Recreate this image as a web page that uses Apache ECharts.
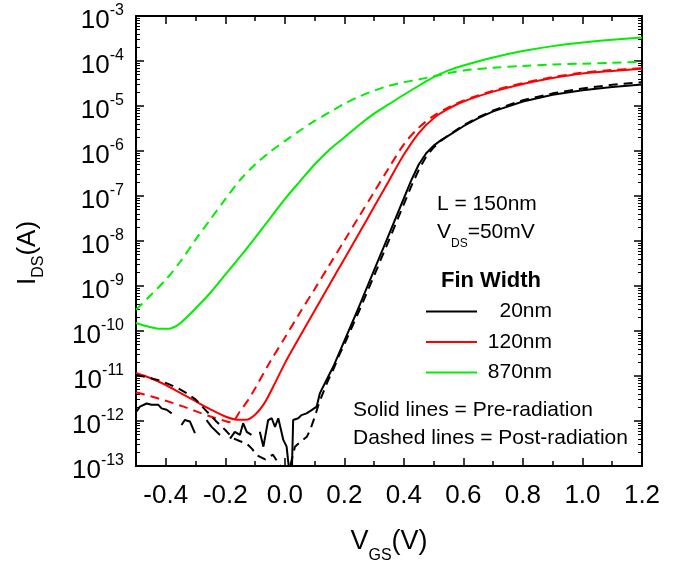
<!DOCTYPE html>
<html><head><meta charset="utf-8">
<script src="https://cdn.jsdelivr.net/npm/echarts@6/dist/echarts.min.js"></script>
<style>html,body{margin:0;padding:0;background:#fff}#c{width:679px;height:564px}</style>
</head><body><div id="c"></div>
<script>
const FONT = '"Liberation Sans", Arial, Helvetica, sans-serif';

// ---- data: V_GS (V) and I_DS (A) ----
const V_20_PRE = [-0.498,-0.487,-0.464,-0.448,-0.425,-0.414,-0.397,-0.38,-0.364,-0.347,-0.336,-0.319,-0.302,-0.283,-0.263,-0.246,-0.229,-0.218,-0.2,-0.184,-0.168,-0.151,-0.14,-0.128,-0.112,-0.098,-0.084,-0.072,-0.056,-0.044,-0.033,-0.022,-0.005,0.006,0.012,0.017,0.023,0.028,0.045,0.056,0.073,0.09,0.107,0.118,0.14,0.163,0.2,0.25,0.3,0.35,0.4,0.425,0.45,0.475,0.5,0.525,0.55,0.6,0.65,0.7,0.8,0.9,1.0,1.1,1.2];
const I_20_PRE = [1.62e-12,2.09e-12,2.45e-12,2.29e-12,2.29e-12,1.91e-12,1.78e-12,1.48e-12,null,8.13e-13,1.05e-12,9.77e-13,5.37e-13,null,1.05e-12,7.41e-13,5.75e-13,4.9e-13,null,4.07e-13,5.75e-13,4.9e-13,8.91e-13,5.75e-13,4.9e-13,null,5.75e-13,2.69e-13,1.05e-12,1.15e-12,7.41e-13,1.15e-12,3.8e-13,2.69e-13,1.15e-13,6.3e-14,5e-14,1.05e-12,1.15e-12,1.35e-12,1.48e-12,1.74e-12,2.09e-12,4.17e-12,8.13e-12,1.62e-11,6.03e-11,3.55e-10,2.24e-9,1.41e-8,8.91e-8,2.24e-7,5.01e-7,8.91e-7,1.32e-6,1.74e-6,2.19e-6,3.55e-6,5.37e-6,7.59e-6,1.26e-5,1.78e-5,2.24e-5,2.63e-5,3.02e-5];

const V_20_POST = [-0.5,-0.475,-0.45,-0.42,-0.39,-0.36,-0.33,-0.3,-0.26,-0.23,-0.2,-0.175,-0.15,-0.128,-0.11,-0.094,-0.066,-0.04,-0.02,0.0,0.02,0.034,0.055,0.074,0.085,0.101,0.115,0.128,0.145,0.162,0.185,0.2,0.25,0.3,0.35,0.4,0.425,0.45,0.475,0.5,0.525,0.55,0.6,0.65,0.7,0.8,0.9,1.0,1.1,1.2];
const I_20_POST = [1.05e-11,9.77e-12,8.91e-12,7.94e-12,6.61e-12,5.37e-12,4.17e-12,3.02e-12,1.58e-12,9.77e-13,6.31e-13,4.17e-13,3.55e-13,3.16e-13,2.4e-13,1.74e-13,1.41e-13,1.78e-13,1.12e-13,7.94e-14,1.12e-13,2.69e-13,3.55e-13,4.47e-13,6.31e-13,1.26e-12,2.51e-12,4.17e-12,7.94e-12,1.35e-11,3.16e-11,5.01e-11,2.82e-10,1.7e-9,1.05e-8,6.61e-8,1.66e-7,3.8e-7,7.59e-7,1.2e-6,1.7e-6,2.24e-6,3.72e-6,5.62e-6,7.94e-6,1.35e-5,1.91e-5,2.45e-5,2.95e-5,3.39e-5];

const V_120_PRE = [-0.5,-0.45,-0.4,-0.35,-0.3,-0.25,-0.2,-0.16,-0.13,-0.1,-0.07,-0.04,0,0.05,0.1,0.15,0.2,0.25,0.3,0.35,0.4,0.45,0.5,0.55,0.6,0.7,0.8,0.9,1.0,1.1,1.2];
const I_120_PRE = [1.17e-11,8.91e-12,6.31e-12,4.17e-12,2.75e-12,1.82e-12,1.26e-12,1.07e-12,1.07e-12,1.38e-12,2.4e-12,5.62e-12,1.91e-11,7.41e-11,2.82e-10,1.07e-9,3.98e-9,1.51e-8,5.75e-8,2.19e-7,8.32e-7,2.51e-6,5.37e-6,8.71e-6,1.26e-5,2.09e-5,3.09e-5,4.17e-5,5.25e-5,6.03e-5,6.76e-5];

const V_120_POST = [-0.5,-0.45,-0.4,-0.35,-0.3,-0.25,-0.2,-0.18,-0.15,-0.12,-0.1,-0.05,0,0.05,0.1,0.15,0.2,0.25,0.3,0.35,0.4,0.45,0.5,0.55,0.6,0.7,0.8,0.9,1.0,1.1,1.2];
const I_120_POST = [4.37e-12,3.55e-12,2.82e-12,2.19e-12,1.66e-12,1.26e-12,1.0e-12,9.33e-13,1.66e-12,3.16e-12,5.25e-12,2.04e-11,7.08e-11,2.51e-10,8.51e-10,2.95e-9,1.02e-8,3.55e-8,1.23e-7,4.27e-7,1.41e-6,3.31e-6,6.03e-6,9.33e-6,1.32e-5,2.19e-5,3.24e-5,4.37e-5,5.5e-5,6.31e-5,6.92e-5];

const V_870_PRE = [-0.5,-0.46,-0.42,-0.39,-0.36,-0.33,-0.3,-0.25,-0.2,-0.15,-0.1,-0.05,0,0.05,0.1,0.15,0.2,0.25,0.3,0.35,0.4,0.45,0.5,0.55,0.6,0.7,0.8,0.9,1.0,1.1,1.2];
const I_870_PRE = [1.51e-10,1.26e-10,1.12e-10,1.12e-10,1.35e-10,2.0e-10,3.16e-10,7.08e-10,1.78e-9,4.47e-9,1.17e-8,3.16e-8,8.51e-8,2.09e-7,5.01e-7,1.07e-6,2.0e-6,3.8e-6,6.76e-6,1.1e-5,1.78e-5,2.82e-5,4.37e-5,6.17e-5,7.94e-5,1.2e-4,1.66e-4,2.14e-4,2.57e-4,2.95e-4,3.31e-4];

const V_870_POST = [-0.5,-0.45,-0.4,-0.35,-0.3,-0.25,-0.2,-0.15,-0.1,-0.05,0,0.05,0.1,0.15,0.2,0.25,0.3,0.35,0.4,0.45,0.5,0.55,0.6,0.7,0.8,0.9,1.0,1.1,1.2];
const I_870_POST = [2.95e-10,6.31e-10,1.38e-9,3.55e-9,1.07e-8,3.02e-8,8.51e-8,2.29e-7,5.01e-7,9.55e-7,1.66e-6,2.82e-6,4.68e-6,7.24e-6,1.12e-5,1.62e-5,2.19e-5,2.82e-5,3.39e-5,3.89e-5,4.57e-5,5.37e-5,6.17e-5,7.08e-5,7.76e-5,8.32e-5,8.71e-5,9.12e-5,9.55e-5];

// ---- tick labels / legend ----
const X_TICK_LABELS = [-0.4,-0.2,0.0,0.2,0.4,0.6,0.8,1.0,1.2];
const Y_DECADES = [-13,-12,-11,-10,-9,-8,-7,-6,-5,-4,-3];
const LEGEND_NAMES = ['20nm','120nm','870nm'];

// minor log ticks (2..9 within each decade), in exponent space
const Y_MINOR = [];
for (let i = 0; i < Y_DECADES.length - 1; i++) for (let k = 2; k <= 9; k++) Y_MINOR.push(Y_DECADES[i] + Math.log10(k));

function pairs(V, I) { return V.map((x, k) => [x, I[k] == null ? '-' : I[k]]); }

const BLACK = '#000000', RED = '#ff0000', GREEN = '#00ee00';
function line(name, V, I, color, dashed, smooth) {
  return {
    name, type: 'line', xAxisIndex: 0, yAxisIndex: 0, data: pairs(V, I),
    symbol: 'none', showSymbol: false, connectNulls: false, clip: true, silent: true,
    smooth: smooth ? 0.3 : false,
    color, itemStyle: {color},
    lineStyle: {color, width: 2, type: dashed ? [9, 6] : 'solid'},
    z: dashed ? 3 : 2
  };
}

const tickStyle = {color: '#000', width: 1.5};
const frameLine = {show: true, onZero: false, lineStyle: {color: '#000', width: 2}};
const noLine = {show: false, onZero: false};
const none = {show: false};

const chart = echarts.init(document.getElementById('c'), null, {renderer: 'canvas'});
chart.setOption({
  animation: false,
  backgroundColor: '#ffffff',
  textStyle: {fontFamily: FONT},
  grid: {left: 136, right: 37, top: 16, bottom: 98, containLabel: false, outerBoundsMode: 'none'},
  xAxis: [
    {type: 'value', min: -0.5, max: 1.2, interval: 0.1, position: 'bottom',
     name: 'V{s|GS}(V)', nameLocation: 'middle', nameGap: 54,
     nameTextStyle: {fontFamily: FONT, fontSize: 27, color: '#000',
       rich: {s: {fontFamily: FONT, fontSize: 16, color: '#000', verticalAlign: 'top', padding: [28, 0, 0, 0]}}},
     axisLine: frameLine, axisTick: {inside: true, length: 5, lineStyle: tickStyle},
     axisLabel: none, splitLine: none},
    {type: 'value', min: -0.5, max: 1.2, interval: 0.1, position: 'bottom',
     axisLine: noLine,
     axisTick: {inside: true, length: 8, customValues: X_TICK_LABELS, lineStyle: tickStyle},
     axisLabel: {show: true, customValues: X_TICK_LABELS, margin: 17,
       fontFamily: FONT, fontSize: 26, color: '#000', formatter: v => v.toFixed(1)},
     splitLine: none},
    {type: 'value', min: -0.5, max: 1.2, interval: 0.1, position: 'top',
     axisLine: frameLine, axisTick: {inside: true, length: 5, lineStyle: tickStyle},
     axisLabel: none, splitLine: none},
    {type: 'value', min: -0.5, max: 1.2, interval: 0.1, position: 'top',
     axisLine: noLine, axisTick: {inside: true, length: 8, customValues: X_TICK_LABELS, lineStyle: tickStyle},
     axisLabel: none, splitLine: none}
  ],
  yAxis: [
    {type: 'log', logBase: 10, min: 1e-13, max: 1e-3, position: 'left',
     name: 'I{s|DS}(A)', nameLocation: 'middle', nameGap: 89, nameRotate: 90,
     nameTextStyle: {fontFamily: FONT, fontSize: 26, color: '#000', padding: [0, 24, 0, 0],
       rich: {s: {fontFamily: FONT, fontSize: 16, color: '#000', verticalAlign: 'top', padding: [22, 0, 0, 0]}}},
     axisLine: frameLine, axisTick: none, axisLabel: none, splitLine: none, minorTick: none},
    {type: 'log', logBase: 10, min: 1e-13, max: 1e-3, position: 'right',
     axisLine: frameLine, axisTick: none, axisLabel: none, splitLine: none},
    {type: 'value', min: -13, max: -3, interval: 1, position: 'left',
     axisLine: noLine, axisTick: {inside: true, length: 8, lineStyle: tickStyle},
     axisLabel: {show: true, margin: 12, fontFamily: FONT, color: '#000',
       formatter: v => '{b|10}{p|' + Math.round(v) + '}',
       rich: {b: {fontFamily: FONT, fontSize: 26, color: '#000', padding: [9, 0, 0, 0]},
              p: {fontFamily: FONT, fontSize: 16, color: '#000', verticalAlign: 'bottom', padding: [0, 0, 15, 0]}}},
     splitLine: none},
    {type: 'value', min: -13, max: -3, interval: 1, position: 'right',
     axisLine: noLine, axisTick: {inside: true, length: 8, lineStyle: tickStyle},
     axisLabel: none, splitLine: none},
    {type: 'value', min: -13, max: -3, interval: 1, position: 'left',
     axisLine: noLine, axisTick: {inside: true, length: 4, customValues: Y_MINOR, lineStyle: {color: '#000', width: 1}},
     axisLabel: none, splitLine: none},
    {type: 'value', min: -13, max: -3, interval: 1, position: 'right',
     axisLine: noLine, axisTick: {inside: true, length: 4, customValues: Y_MINOR, lineStyle: {color: '#000', width: 1}},
     axisLabel: none, splitLine: none}
  ],
  legend: {
    data: LEGEND_NAMES, orient: 'vertical', left: 421, top: 296,
    icon: 'rect', itemWidth: 51, itemHeight: 2, itemGap: 9.5, itemTextGap: 6,
    selectedMode: false, padding: 5,
    textStyle: {fontFamily: FONT, fontSize: 21, color: '#000', lineHeight: 21,
      rich: {r: {fontFamily: FONT, fontSize: 21, color: '#000', width: 70, align: 'right'}}},
    formatter: n => '{r|' + n + '}'
  },
  graphic: [
    {type: 'text', x: 437, y: 204, silent: true,
     style: {text: 'L = 150nm', fontFamily: FONT, fontSize: 21, fill: '#000', verticalAlign: 'middle'}},
    {type: 'text', x: 437, y: 232, silent: true,
     style: {text: 'V{s|DS}=50mV', fontFamily: FONT, fontSize: 21, fill: '#000', verticalAlign: 'middle',
       rich: {s: {fontFamily: FONT, fontSize: 12, fill: '#000', verticalAlign: 'top', padding: [24, 0, 0, 0]}}}},
    {type: 'text', x: 491, y: 281, silent: true,
     style: {text: 'Fin Width', fontFamily: FONT, fontSize: 22, fontWeight: 'bold', fill: '#000', align: 'center', verticalAlign: 'middle'}},
    {type: 'text', x: 353, y: 410, silent: true,
     style: {text: 'Solid lines = Pre-radiation', fontFamily: FONT, fontSize: 21, fill: '#000', verticalAlign: 'middle'}},
    {type: 'text', x: 353, y: 438, silent: true,
     style: {text: 'Dashed lines = Post-radiation', fontFamily: FONT, fontSize: 21, fill: '#000', verticalAlign: 'middle'}}
  ],
  series: [
    line('870nm post', V_870_POST, I_870_POST, GREEN, true, true),
    line('120nm post', V_120_POST, I_120_POST, RED, true, true),
    line('20nm post', V_20_POST, I_20_POST, BLACK, true, false),
    line('870nm', V_870_PRE, I_870_PRE, GREEN, false, true),
    line('120nm', V_120_PRE, I_120_PRE, RED, false, true),
    line('20nm', V_20_PRE, I_20_PRE, BLACK, false, false)
  ]
});
</script>
</body></html>
